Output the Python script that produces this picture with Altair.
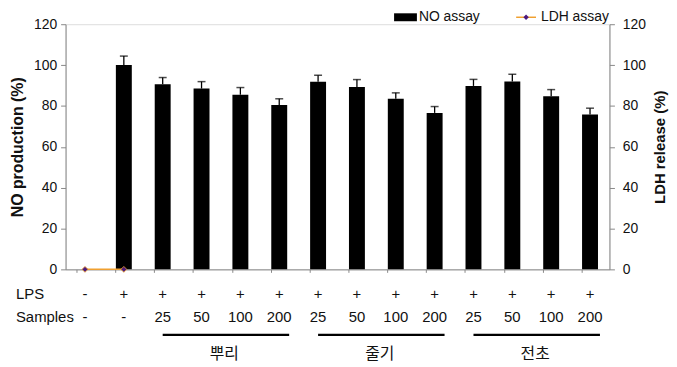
import altair as alt
import pandas as pd

cats = [f"c{i:02d}" for i in range(1, 15)]
lps = ["-", "+", "+", "+", "+", "+", "+", "+", "+", "+", "+", "+", "+", "+"]
samples = ["-", "-", "25", "50", "100", "200", "25", "50", "100", "200", "25", "50", "100", "200"]
no_vals = [None, 100.0, 90.6, 88.5, 85.5, 80.5, 91.8, 89.3, 83.5, 76.6, 89.8, 91.9, 84.7, 75.8]
no_err = [None, 4.4, 3.3, 3.4, 3.5, 3.0, 3.2, 3.6, 2.9, 3.1, 3.2, 3.6, 3.3, 3.1]
ldh_cats = ["c01", "c02"]
ldh_vals = [0.0, 0.0]
groups = ["뿌리", "줄기", "전초"]
group_start = ["c03", "c07", "c11"]
group_end = ["c06", "c10", "c14"]
group_mid = ["c04", "c08", "c12"]

FONT = "Liberation Sans"

df = pd.DataFrame({"cat": cats, "lps": lps, "samples": samples, "no": no_vals, "err": no_err})
df["hi"] = df["no"] + df["err"]
bars_df = df.dropna()
ldh_df = pd.DataFrame({"cat": ldh_cats, "ldh": ldh_vals})
grp_df = pd.DataFrame({"g": groups, "s": group_start, "e": group_end, "m": group_mid})

xscale = alt.Scale(domain=cats, paddingInner=0.59, paddingOuter=0.295)
xaxis = alt.Axis(title=None, labels=False, domain=True, domainColor="#888", ticks=True,
                 tickColor="#888", tickSize=3, bandPosition=0, grid=False)
yscale = alt.Scale(domain=[0, 120])
left_axis = alt.Axis(title="NO production (%)", values=[0, 20, 40, 60, 80, 100, 120],
                     grid=False, domainColor="#888", tickColor="#888", tickSize=5,
                     labelFont=FONT, labelFontSize=14, labelColor="#111", labelPadding=4,
                     titleFont=FONT, titleFontSize=16, titleFontWeight="bold",
                     titlePadding=8, titleColor="#111")
right_axis = alt.Axis(title="LDH release (%)", orient="right", values=[0, 20, 40, 60, 80, 100, 120],
                      grid=False, domainColor="#888", tickColor="#888", tickSize=5,
                      labelFont=FONT, labelFontSize=14, labelColor="#111", labelPadding=8,
                      titleFont=FONT, titleFontSize=15, titleFontWeight="bold",
                      titlePadding=22, titleColor="#111", titleAngle=-90)

X = alt.X("cat:N", scale=xscale, axis=xaxis, sort=cats)

bars = alt.Chart(bars_df).mark_bar(color="black").encode(
    x=X, y=alt.Y("no:Q", scale=yscale, axis=left_axis))
err = alt.Chart(bars_df).mark_rule(color="black", strokeWidth=1.3).encode(
    x=X, y=alt.Y("no:Q", scale=yscale), y2="hi:Q")
cap = alt.Chart(bars_df).mark_tick(color="black", thickness=1.5, size=8).encode(
    x=X, y=alt.Y("hi:Q", scale=yscale))

lps_t = alt.Chart(df).mark_text(font=FONT, fontSize=15, color="#111").encode(
    x=X, y=alt.value(272), text="lps:N")
smp_t = alt.Chart(df).mark_text(font=FONT, fontSize=15, color="#111").encode(
    x=X, y=alt.value(295), text="samples:N")
row_labels = pd.DataFrame({"t": ["LPS", "Samples"], "yy": [272, 295]})
row_t = alt.Chart(row_labels).mark_text(font=FONT, fontSize=15, color="#111", align="left").encode(
    x=alt.value(-50), y=alt.Y("yy:Q", scale=None, axis=None), text="t:N")
glines = alt.Chart(grp_df).mark_rule(color="black", strokeWidth=2.5, x2Offset=10).encode(
    x=alt.X("s:N", scale=xscale, sort=cats), x2="e:N", y=alt.value(313))
gtext = alt.Chart(grp_df).mark_text(font="Noto Sans CJK KR", fontSize=16, color="#111", dx=23,
                                    baseline="middle").encode(
    x=alt.X("m:N", scale=xscale, sort=cats), y=alt.value(332), text="g:N")

# legend
leg_rect = alt.Chart(pd.DataFrame({"a": [0]})).mark_rect(color="black").encode(
    x=alt.value(331), x2=alt.value(354), y=alt.value(-11), y2=alt.value(-3))
leg_txt = alt.Chart(pd.DataFrame({"t": ["NO assay", "LDH assay"], "xx": [356, 479]})).mark_text(
    font=FONT, fontSize=14, color="#111", align="left", baseline="middle").encode(
    x=alt.X("xx:Q", scale=None, axis=None), y=alt.value(-7), text="t:N")
leg_line = alt.Chart(pd.DataFrame({"a": [0]})).mark_rule(color="#f0a030", strokeWidth=1.5).encode(
    x=alt.value(454), x2=alt.value(474), y=alt.value(-7))
leg_pt = alt.Chart(pd.DataFrame({"a": [0]})).mark_point(shape="diamond", filled=True, color="#4b1a7e",
                                                        size=30, opacity=1).encode(
    x=alt.value(464), y=alt.value(-7))

left = alt.layer(bars, err, cap)

ldh_line = alt.Chart(ldh_df).mark_line(color="#f0a030", strokeWidth=1.5).encode(
    x=X, y=alt.Y("ldh:Q", scale=yscale, axis=right_axis))
ldh_pts = alt.Chart(ldh_df).mark_point(shape="diamond", filled=True, color="#4b1a7e", size=35,
                                       opacity=1, stroke="#f0a030", strokeWidth=0.8).encode(
    x=X, y=alt.Y("ldh:Q", scale=yscale))
right = alt.layer(ldh_line, ldh_pts)

extras = alt.layer(lps_t, smp_t, glines, gtext, leg_rect, leg_line, leg_pt)
extras2 = alt.layer(row_t, leg_txt)

chart = alt.layer(left, right, extras, extras2).resolve_scale(y="independent", x="shared").properties(
    width=548, height=247,
    autosize=alt.AutoSizeParams(type="none"),
    padding={"left": 58, "top": 15, "right": 60, "bottom": 93},
).configure_view(stroke=None).configure(background="white")

chart.save("out.html", embed_options={"renderer": "svg", "actions": False})
